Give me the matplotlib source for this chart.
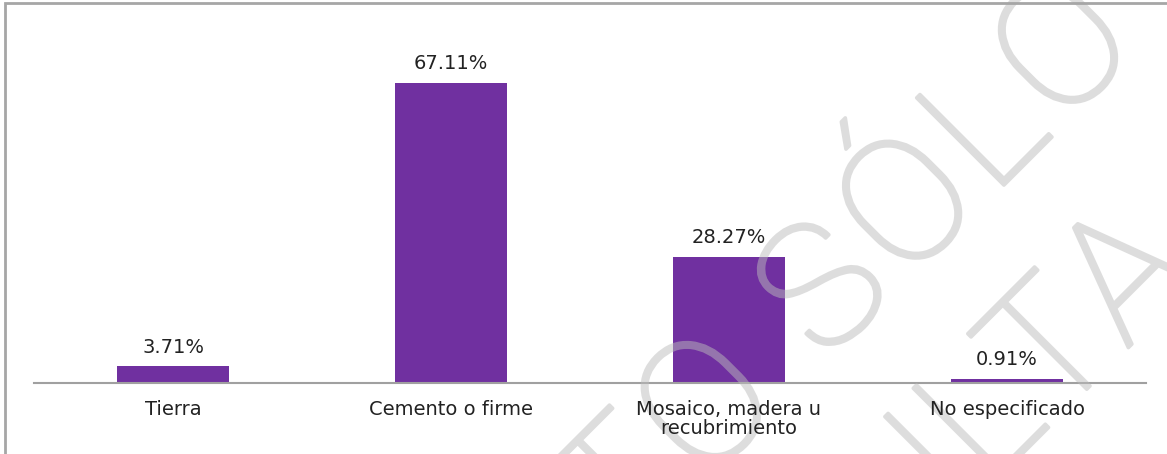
import matplotlib
matplotlib.use('Agg')
import numpy as np
import matplotlib.pyplot as plt
import matplotlib.patheffects as pe
from matplotlib.patches import Rectangle
from matplotlib.font_manager import findfont, FontProperties
from matplotlib.ft2font import FT2Font

# Data
categories = ['Tierra', 'Cemento o firme', 'Mosaico, madera u\nrecubrimiento', 'No especificado']
values = [3.71, 67.11, 28.27, 0.91]
value_labels = ['3.71%', '67.11%', '28.27%', '0.91%']

W, H = 1167, 454
fig = plt.figure(figsize=(W / 100, H / 100), dpi=100)
fig.patch.set_facecolor('white')

# axes placed in pixel terms: baseline at y=383, x from 34 to 1146
ymax = 75
px_per_unit = 300 / 67.11
ax = fig.add_axes([34 / W, (H - 383) / H, 1112 / W, ymax * px_per_unit / H])
ax.set_facecolor('none')

x = [i + 0.5 for i in range(len(values))]
bars = ax.bar(x, values, width=0.4, color='#7030a0', zorder=2)
ax.set_xlim(0, len(values))
ax.set_ylim(0, ymax)

# value labels above bars
for bar, lab in zip(bars, value_labels):
    ax.annotate(lab, (bar.get_x() + bar.get_width() / 2, bar.get_height()),
                xytext=(0, 10), textcoords='offset points',
                ha='center', va='baseline', fontsize=14, color='#222222',
                family='DejaVu Sans', zorder=4)

ax.set_xticks(x)
ax.set_xticklabels(categories, fontsize=14, color='#222222', family='DejaVu Sans',
                   linespacing=1.05)
ax.tick_params(axis='x', length=0, pad=12)
ax.set_yticks([])
for side in ['top', 'right', 'left']:
    ax.spines[side].set_visible(False)
ax.spines['bottom'].set_color('#a0a0a0')
ax.spines['bottom'].set_linewidth(1.5)
ax.xaxis.set_zorder(5)

# watermark: thin letters, spaced with Arial-like advances, rotated 45 deg
wm_size = 119
ft = FT2Font(findfont(FontProperties(family='Liberation Sans')))
ft.set_size(wm_size, 100)
d = np.array([np.cos(np.pi / 4), -np.sin(np.pi / 4)])   # baseline direction, image px
up = np.array([-np.sin(np.pi / 4), -np.cos(np.pi / 4)])  # glyph "up", image px
half_cap = 0.358 * wm_size * 100 / 72


def half_alpha(img, dpi):
    img = img.copy()
    img[:, :, 3] *= 0.5
    return img, 0, 0


def watermark(line, end_px):
    adv = []
    for ch in line:
        g = ft.load_char(ord(ch))
        adv.append(g.linearHoriAdvance / 65536)
    start = np.array(end_px) - sum(adv) * d
    pos = 0
    for ch, a in zip(line, adv):
        p = start + (pos + a / 2) * d
        pos += a
        if ch == ' ':
            continue
        # letters that fall outside the picture are left out
        c = p + half_cap * up
        if not (-60 < c[0] < W + 60 and -60 < c[1] < H + 60):
            continue
        t = ax.text(p[0] / W, 1 - p[1] / H, ch, rotation=45, rotation_mode='anchor',
                    ha='center', va='baseline', fontsize=wm_size * 1.05,
                    family=['Roboto', 'DejaVu Sans'], fontweight='light',
                    color='#bcbcbc', transform=fig.transFigure,
                    clip_on=False, zorder=3)
        t.set_path_effects([pe.withStroke(linewidth=2.6, foreground='#bcbcbc')])
        t.set_agg_filter(half_alpha)


watermark('DOCUMENTO SÓLO', (1147, 42))
watermark('PARA CONSULTA', (1202, 274))

# outer frame (only top and left edges visible in the crop)
fig.patches.append(Rectangle((5 / W, -0.1), 1.2, 1.1 - 3 / H, transform=fig.transFigure,
                             fill=False, edgecolor='#a6a6a6', lw=2))

fig.savefig('out.png', dpi=100)
